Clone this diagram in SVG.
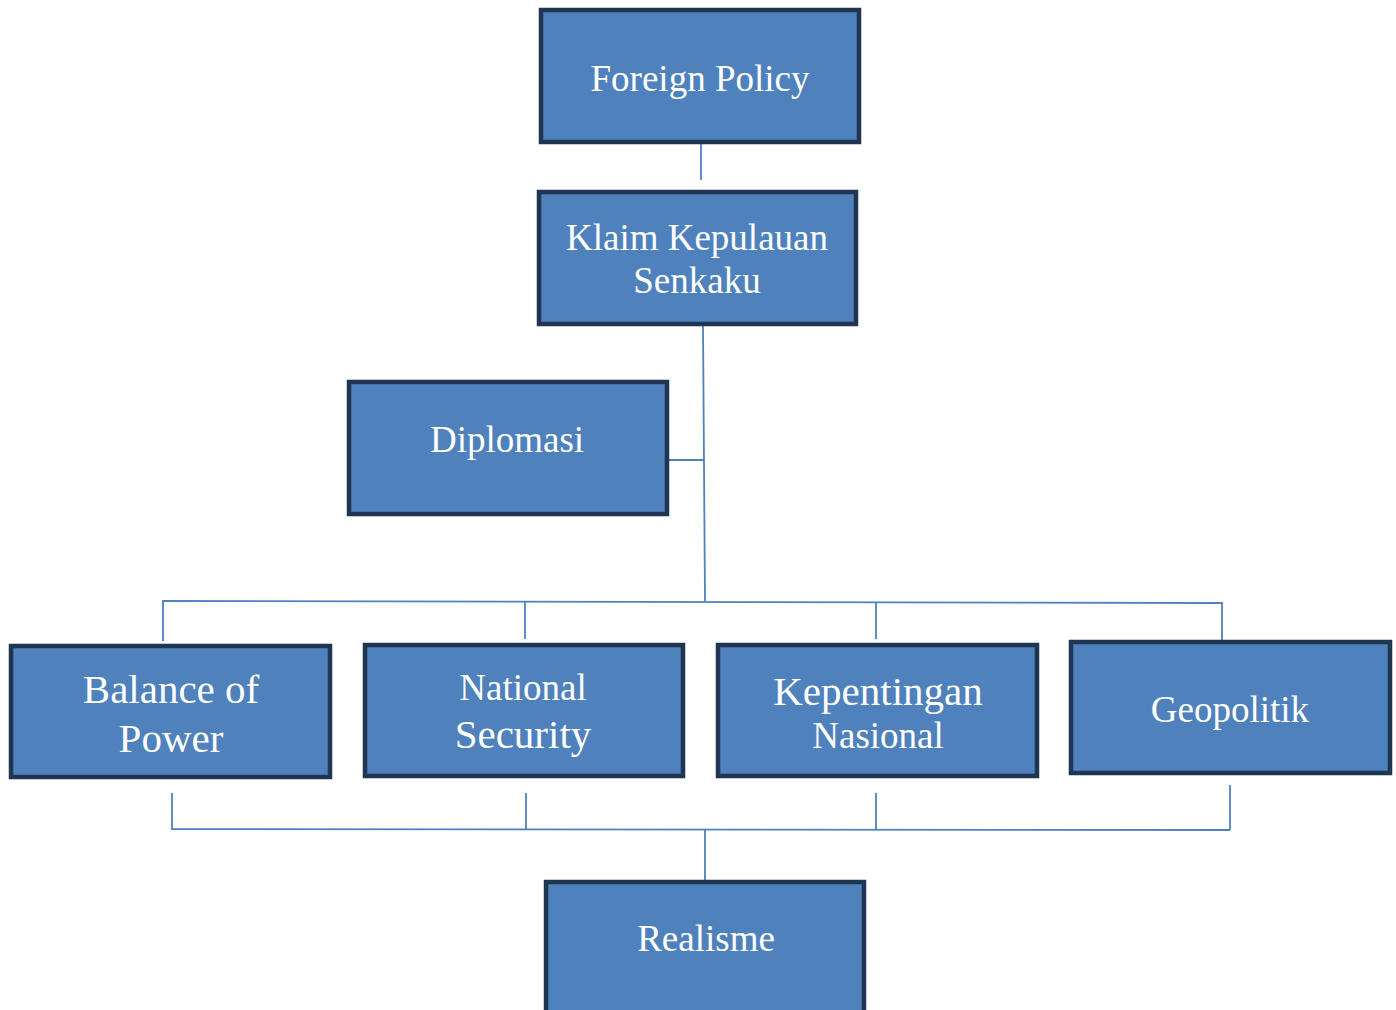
<svg xmlns="http://www.w3.org/2000/svg" width="1396" height="1010" viewBox="0 0 1396 1010">
<style>
.box{fill:#4F81BD;stroke:#1F3551;stroke-width:4.5}
.t{fill:#FFFFFF;font-family:"Liberation Serif","Times New Roman",serif;text-anchor:middle}
.c{fill:none;stroke:#4F81BD;stroke-width:1.8}
</style>
<rect width="1396" height="1010" fill="#FFFFFF"/>
<g id="connectors">
<line class="c" x1="701" y1="144" x2="701" y2="180"/>
<line class="c" x1="703" y1="326" x2="705" y2="601"/>
<line class="c" x1="669" y1="460" x2="704" y2="460"/>
<polyline class="c" points="163,641 163,601 1222,603 1222,640"/>
<line class="c" x1="525" y1="602" x2="525" y2="639"/>
<line class="c" x1="876" y1="602" x2="876" y2="639"/>
<polyline class="c" points="172,793 172,829 1230,830"/>
<line class="c" x1="1230" y1="785" x2="1230" y2="830"/>
<line class="c" x1="526" y1="793" x2="526" y2="829"/>
<line class="c" x1="876" y1="793" x2="876" y2="830"/>
<line class="c" x1="705" y1="830" x2="705" y2="880"/>
</g>
<g id="foreign-policy">
<rect class="box" x="541" y="10" width="318" height="132"/>
<text class="t" x="700" y="91" font-size="37">Foreign Policy</text>
</g>
<g id="klaim">
<rect class="box" x="539" y="192" width="317" height="132"/>
<text class="t" x="697" y="250" font-size="37">Klaim Kepulauan</text>
<text class="t" x="697" y="293" font-size="37">Senkaku</text>
</g>
<g id="diplomasi">
<rect class="box" x="349" y="382" width="318" height="132"/>
<text class="t" x="507" y="452" font-size="37">Diplomasi</text>
</g>
<g id="balance-of-power">
<rect class="box" x="11" y="646" width="319" height="131"/>
<text class="t" x="171" y="703" font-size="41">Balance of</text>
<text class="t" x="171" y="752" font-size="41">Power</text>
</g>
<g id="national-security">
<rect class="box" x="365" y="645" width="318" height="131"/>
<text class="t" x="523" y="700" font-size="37">National</text>
<text class="t" x="523" y="748" font-size="41">Security</text>
</g>
<g id="kepentingan-nasional">
<rect class="box" x="718" y="645" width="319" height="131"/>
<text class="t" x="878" y="705" font-size="41">Kepentingan</text>
<text class="t" x="878" y="748" font-size="37">Nasional</text>
</g>
<g id="geopolitik">
<rect class="box" x="1071" y="642" width="319" height="131"/>
<text class="t" x="1230" y="722" font-size="37">Geopolitik</text>
</g>
<g id="realisme">
<rect class="box" x="546" y="882" width="318" height="134"/>
<text class="t" x="706" y="951" font-size="37">Realisme</text>
</g>
</svg>
